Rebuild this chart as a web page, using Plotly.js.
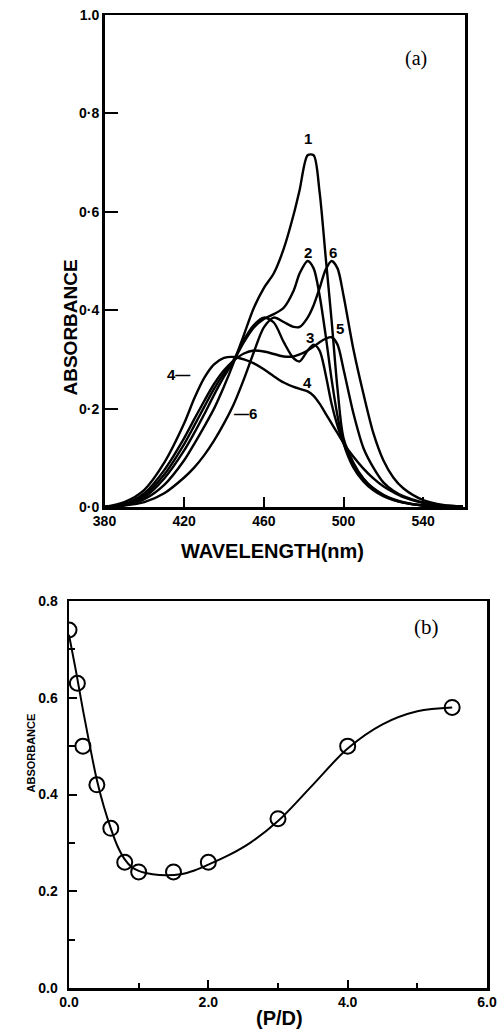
<!DOCTYPE html>
<html>
<head>
<meta charset="utf-8">
<script src="https://cdn.plot.ly/plotly-3.0.1.min.js"></script>
<style>
html,body{margin:0;padding:0;background:#fff;}
#chart{width:498px;height:1032px;}
</style>
</head>
<body>
<div id="chart"></div>
<script>
// ---------- Panel (a): absorption spectra ----------
const wavelength = [380,390,400,410,420,425,430,435,440,445,450,455,460,465,470,475,478,482,485,488,491,494,497,500,505,510,515,520,525,530,540,550,560];
const curve1 = [0.000,0.004,0.016,0.045,0.095,0.128,0.163,0.200,0.245,0.295,0.350,0.405,0.445,0.475,0.525,0.595,0.645,0.715,0.715,0.640,0.510,0.380,0.240,0.140,0.090,0.058,0.037,0.024,0.015,0.009,0.003,0.001,0.000];
const curve2 = [0.000,0.005,0.020,0.058,0.115,0.150,0.188,0.228,0.265,0.298,0.335,0.365,0.382,0.392,0.405,0.440,0.475,0.500,0.485,0.430,0.350,0.260,0.185,0.130,0.080,0.052,0.034,0.022,0.014,0.009,0.003,0.001,0.000];
const curve3 = [0.000,0.005,0.024,0.066,0.128,0.165,0.203,0.240,0.272,0.300,0.340,0.370,0.385,0.375,0.335,0.302,0.296,0.318,0.330,0.318,0.270,0.210,0.165,0.130,0.085,0.057,0.038,0.025,0.016,0.010,0.003,0.001,0.000];
const curve4 = [0.000,0.010,0.035,0.090,0.170,0.220,0.262,0.290,0.303,0.305,0.300,0.292,0.280,0.266,0.253,0.244,0.240,0.235,0.226,0.210,0.190,0.170,0.150,0.130,0.102,0.078,0.058,0.042,0.030,0.020,0.008,0.002,0.000];
const curve5 = [0.000,0.006,0.028,0.075,0.140,0.178,0.215,0.250,0.278,0.298,0.312,0.318,0.316,0.311,0.306,0.306,0.310,0.318,0.326,0.335,0.342,0.345,0.330,0.280,0.190,0.120,0.080,0.050,0.033,0.022,0.009,0.003,0.001];
const curve6 = [0.000,0.003,0.010,0.028,0.060,0.080,0.105,0.135,0.170,0.210,0.260,0.315,0.365,0.385,0.376,0.366,0.366,0.385,0.410,0.445,0.482,0.500,0.485,0.430,0.320,0.230,0.150,0.095,0.060,0.038,0.014,0.004,0.001];
const spectra = [curve1, curve2, curve3, curve4, curve5, curve6];

const aXTicks = [380,420,460,500,540];
const aYTicks = [0,0.2,0.4,0.6,0.8,1.0];
const aYTickText = ['0·0','0·2','0·4','0·6','0·8','1.0'];

// curve labels: [text, wavelength, absorbance]
const curveLabelText = ['1','2','6','3','5','4','4—','—6'];
const curveLabelX = [482,482,494.5,483,498,482,417,451];
const curveLabelY = [0.75,0.518,0.518,0.345,0.362,0.253,0.27,0.19];

// ---------- Panel (b): absorbance vs P/D ----------
const pdRatio = [0.0,0.12,0.2,0.4,0.6,0.8,1.0,1.5,2.0,3.0,4.0,5.5];
const pdAbs   = [0.74,0.63,0.50,0.42,0.33,0.26,0.24,0.24,0.26,0.35,0.50,0.58];
const fitRatio = [0.0,0.1,0.2,0.3,0.4,0.5,0.6,0.7,0.8,0.9,1.0,1.2,1.4,1.6,1.8,2.0,2.3,2.6,3.0,3.5,4.0,4.5,5.0,5.5];
const fitAbs   = [0.73,0.655,0.575,0.50,0.43,0.375,0.330,0.292,0.266,0.250,0.242,0.235,0.233,0.235,0.243,0.255,0.275,0.300,0.345,0.420,0.495,0.545,0.572,0.580];
const bXTicks = [0,2,4,6];
const bXTickText = ['0.0','2.0','4.0','6.0'];
const bYTicks = [0,0.2,0.4,0.6,0.8];
const bYTickText = ['0.0','0.2','0.4','0.6','0.8'];

const W = 498, H = 1032;
const px = v => v / W;
const py = v => 1 - v / H;
const sans = 'Liberation Sans, Arial, sans-serif';
const serif = 'Liberation Serif, Times New Roman, serif';

const traces = spectra.map(ys => ({
  x: wavelength, y: ys, type: 'scatter', mode: 'lines',
  line: {color: '#000', width: 2.4, shape: 'spline', smoothing: 0.8},
  xaxis: 'x', yaxis: 'y', hoverinfo: 'skip'
}));
traces.push({
  x: fitRatio, y: fitAbs, type: 'scatter', mode: 'lines',
  line: {color: '#000', width: 2, shape: 'spline', smoothing: 1},
  xaxis: 'x2', yaxis: 'y2'
});
traces.push({
  x: pdRatio, y: pdAbs, type: 'scatter', mode: 'markers',
  marker: {symbol: 'circle-open', size: 15, color: '#000', line: {width: 2, color: '#000'}},
  xaxis: 'x2', yaxis: 'y2'
});

const tickFontA = {family: sans, size: 14, color: '#000', weight: 'bold'};
const tickFontB = {family: sans, size: 14, color: '#000', weight: 'bold'};

const annotations = curveLabelText.map((t, i) => ({
  text: t, x: curveLabelX[i], y: curveLabelY[i], xref: 'x', yref: 'y',
  showarrow: false, font: {family: sans, size: 15, color: '#000', weight: 'bold'}
}));
annotations.push(
  {text: '(a)', x: px(429), y: py(45), xref: 'paper', yref: 'paper', showarrow: false,
   font: {family: serif, size: 20, color: '#000'}},
  {text: '(b)', x: px(441), y: py(627), xref: 'paper', yref: 'paper', showarrow: false,
   font: {family: serif, size: 21, color: '#000'}},
  {text: 'ABSORBANCE', x: px(57), y: py(258), xref: 'paper', yref: 'paper', showarrow: false,
   textangle: -90, font: {family: sans, size: 19, color: '#000', weight: 'bold'}},
  {text: 'WAVELENGTH(nm)', x: px(272), y: py(551), xref: 'paper', yref: 'paper', showarrow: false,
   font: {family: sans, size: 20, color: '#000', weight: 'bold'}},
  {text: 'ABSORBANCE', x: px(22), y: py(795), xref: 'paper', yref: 'paper', showarrow: false,
   textangle: -90, font: {family: sans, size: 11, color: '#000', weight: 'bold'}},
  {text: '(P/D)', x: px(279), y: py(1031), xref: 'paper', yref: 'paper', showarrow: false,
   yanchor: 'bottom', font: {family: sans, size: 20, color: '#000', weight: 'bold'}}
);

const layout = {
  width: W, height: H, showlegend: false,
  margin: {l: 0, r: 0, t: 0, b: 0},
  paper_bgcolor: '#fff', plot_bgcolor: '#fff',
  xaxis: {
    domain: [px(104.5), px(465)], range: [380, 561], anchor: 'y',
    tickvals: aXTicks, ticks: 'inside', ticklen: 10, tickwidth: 2, tickcolor: '#000',
    showline: true, linewidth: 2.5, linecolor: '#000', mirror: true,
    showgrid: false, zeroline: false, tickfont: tickFontA, automargin: false, fixedrange: true
  },
  yaxis: {
    domain: [py(507), py(15)], range: [0, 1.0], anchor: 'x',
    tickvals: aYTicks, ticktext: aYTickText, ticks: 'inside', ticklen: 13, tickwidth: 2, tickcolor: '#000',
    showline: true, linewidth: 2.5, linecolor: '#000', mirror: true,
    showgrid: false, zeroline: false, tickfont: tickFontA, automargin: false, fixedrange: true
  },
  xaxis2: {
    domain: [px(69), px(487)], range: [0, 6], anchor: 'y2',
    tickvals: bXTicks, ticktext: bXTickText, ticks: 'inside', ticklen: 8, tickwidth: 2, tickcolor: '#000',
    minor: {tickvals: [1,3,5], ticks: 'inside', ticklen: 5, tickwidth: 2, tickcolor: '#000', showgrid: false},
    showline: true, linewidth: 2.5, linecolor: '#000', mirror: true,
    showgrid: false, zeroline: false, tickfont: tickFontB, automargin: false, fixedrange: true
  },
  yaxis2: {
    domain: [py(988), py(601)], range: [0, 0.8], anchor: 'x2',
    tickvals: bYTicks, ticktext: bYTickText, ticks: 'inside', ticklen: 8, tickwidth: 2, tickcolor: '#000',
    minor: {tickvals: [0.1,0.3,0.5,0.7], ticks: 'inside', ticklen: 6, tickwidth: 2, tickcolor: '#000', showgrid: false},
    showline: true, linewidth: 2.5, linecolor: '#000', mirror: true, ticklabelstandoff: 6,
    showgrid: false, zeroline: false, tickfont: tickFontB, automargin: false, fixedrange: true
  },
  annotations: annotations
};

Plotly.newPlot('chart', traces, layout, {displayModeBar: false, staticPlot: true});
</script>
</body>
</html>
